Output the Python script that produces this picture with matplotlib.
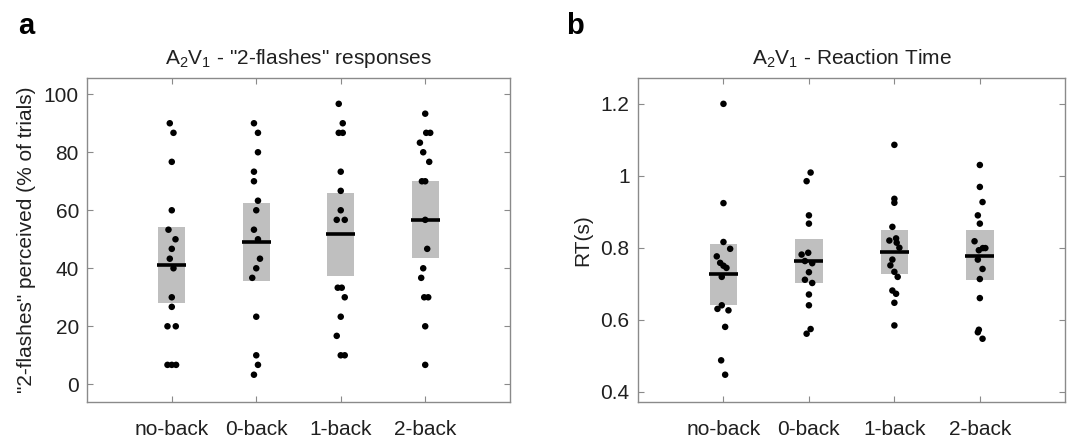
import matplotlib
matplotlib.use("Agg")
import matplotlib.pyplot as plt
import numpy as np

plt.rcParams['font.family'] = ['Liberation Sans', 'DejaVu Sans']
plt.rcParams['mathtext.fontset'] = 'custom'
plt.rcParams['mathtext.rm'] = 'Liberation Sans'
plt.rcParams['mathtext.it'] = 'Liberation Sans'

categories = ["no-back", "0-back", "1-back", "2-back"]

# Panel a: "2-flashes" perceived (% of trials), per subject, with x offsets (px)
a_vals = [
    [90, 86.7, 76.7, 60, 53.3, 50, 46.7, 43.3, 40, 30, 26.7, 20, 20, 6.7, 6.7, 6.7],
    [90, 86.7, 80, 73.3, 70, 63.3, 60, 53.3, 50, 43.3, 40, 36.7, 23.3, 10, 6.7, 3.3],
    [96.7, 90, 86.7, 86.7, 73.3, 66.7, 60, 56.7, 56.7, 33.3, 33.3, 30, 23.3, 16.7, 10, 10],
    [93.3, 86.7, 86.7, 83.3, 80, 76.7, 70, 70, 56.7, 46.7, 40, 36.7, 30, 30, 20, 6.7],
]
a_offs = [
    [-2, 1.7, 0, 0, -3.3, 3.7, 0, -2, 1.7, 0, 0, -4.3, 4, -4.3, 0, 4.3],
    [-2.3, 1.7, 1.7, -2.3, -2.3, 1.7, 0, -2.3, 1.7, 3.7, 0, -4, 0, 0, 1.7, -2.3],
    [-2, 2, -2, 2, 0, 0, 0, -4, 4, -3, 1, 4, 0, -4, 0, 4],
    [0, 1, 5, -5.3, -2, 4, -3.3, 0, 0, 2, -2, -4, -1, 3, 0, 0],
]
a_center = [41.3, 49.1, 51.7, 56.8]
a_low = [28.1, 35.6, 37.2, 43.6]
a_high = [54.4, 62.6, 66.0, 70.1]

# Panel b: Reaction time (s)
b_vals = [
    [1.2, 0.924, 0.816, 0.797, 0.776, 0.758, 0.750, 0.744, 0.719, 0.640, 0.630, 0.626, 0.580, 0.487, 0.447],
    [1.009, 0.985, 0.890, 0.867, 0.786, 0.781, 0.763, 0.757, 0.732, 0.711, 0.702, 0.670, 0.640, 0.574, 0.561],
    [1.086, 0.936, 0.925, 0.858, 0.826, 0.820, 0.814, 0.800, 0.767, 0.751, 0.733, 0.719, 0.681, 0.672, 0.647, 0.584],
    [1.030, 0.969, 0.927, 0.890, 0.867, 0.818, 0.799, 0.799, 0.793, 0.767, 0.741, 0.713, 0.660, 0.572, 0.565, 0.547],
]
b_offs = [
    [0, 0, 0, 6.7, -6.7, -3.3, 0, 3, -1.7, -1.7, -6, 5, 1.7, -2.3, 1.7],
    [1.7, -2.3, 0, 0, -0.7, -7.3, -4, 3.3, 0, -4, 3.3, 0, 0, 1.7, -2.3],
    [0, 0, 0, -2, 1.7, -5, 2.3, 5, -2, -4, 0, 3.3, -2, 1.7, 0, 0],
    [0, 0, 2.7, -2, 0, -5.3, 3, 5.5, -1, -2, 2.7, 0, 0, -1, -2, 2.7],
]
b_center = [0.727, 0.762, 0.789, 0.778]
b_low = [0.642, 0.702, 0.728, 0.710]
b_high = [0.811, 0.823, 0.848, 0.848]

W, H = 1072, 437
fig = plt.figure(figsize=(W / 100, H / 100), dpi=100)

spine_col = '#8a8a8a'
txt_col = '#202020'
box_col = '#bfbfbf'
FS = 15


def panel(rect, vals, offs, center, low, high, ylim, yticks, yticklabels,
          title, ylabel, pxper):
    ax = fig.add_axes(rect)
    x = np.arange(1, len(categories) + 1)
    hw = 0.16
    for i in range(len(categories)):
        ax.add_patch(plt.Rectangle((x[i] - hw, low[i]), 2 * hw, high[i] - low[i],
                                   facecolor=box_col, edgecolor='none', zorder=1))
        xs = x[i] + np.array(offs[i]) / pxper
        ax.scatter(xs, vals[i], s=22, color='black', edgecolors='none', zorder=3)
        ax.plot([x[i] - hw - 0.01, x[i] + hw + 0.01], [center[i], center[i]],
                color='black', lw=2.6, solid_capstyle='butt', zorder=4)
    ax.set_xlim(0, 5)
    ax.set_ylim(*ylim)
    ax.set_xticks(x)
    ax.set_xticklabels(categories)
    ax.set_yticks(yticks)
    ax.set_yticklabels(yticklabels)
    ax.tick_params(direction='in', length=4, width=0.8, color=spine_col,
                   labelsize=FS, labelcolor=txt_col, top=True, right=True)
    ax.tick_params(axis='x', pad=13)
    ax.tick_params(axis='y', pad=6)
    for s in ax.spines.values():
        s.set_color(spine_col)
        s.set_linewidth(1.0)
    ax.set_title(title, fontsize=FS, color=txt_col, pad=10)
    ax.set_ylabel(ylabel, fontsize=FS, color=txt_col, labelpad=6)
    return ax


axw = 422.4 / W
axh = 323.4 / H
bot = (H - 401.7) / H
ax1 = panel([87.3 / W, bot, axw, axh], a_vals, a_offs, a_center, a_low, a_high,
            (-6, 105.5), [0, 20, 40, 60, 80, 100], ['0', '20', '40', '60', '80', '100'],
            r'A$_2$V$_1$ - "2-flashes" responses', '"2-flashes" perceived (% of trials)', 84.4)
ax2 = panel([638 / W, bot, 427.3 / W, axh], b_vals, b_offs, b_center, b_low, b_high,
            (0.372, 1.271), [0.4, 0.6, 0.8, 1.0, 1.2], ['0.4', '0.6', '0.8', '1', '1.2'],
            r'A$_2$V$_1$ - Reaction Time', 'RT(s)', 85.5)

fig.text(18 / W, 1 - 34 / H, 'a', fontsize=21, fontweight='bold', color='black')
fig.text(566 / W, 1 - 34 / H, 'b', fontsize=21, fontweight='bold', color='black')

fig.savefig('out.png', dpi=100)
